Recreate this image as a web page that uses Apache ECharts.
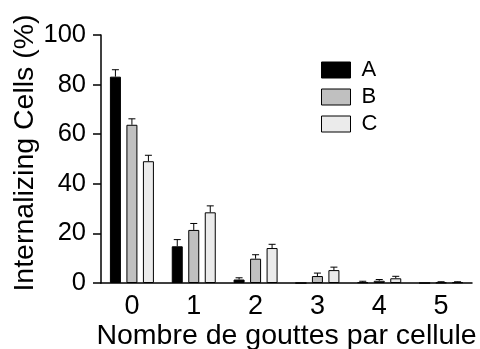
<!DOCTYPE html>
<html>
<head>
<meta charset="utf-8">
<script src="https://cdn.jsdelivr.net/npm/echarts@6/dist/echarts.min.js"></script>
<style>
html,body{margin:0;padding:0;background:#fff;}
#chart{width:480px;height:349px;}
</style>
</head>
<body>
<div id="chart"></div>
<script>
const categories = ['0', '1', '2', '3', '4', '5'];
const seriesNames = ['A', 'B', 'C'];
const valuesA = [83.2, 14.8, 1.4, 0, 0.3, 0];
const errA = [2.8, 2.7, 0.7, 0, 0.4, 0];
const valuesB = [63.8, 21.4, 9.8, 2.8, 0.9, 0.2];
const errB = [2.4, 2.6, 1.6, 1.2, 0.5, 0.3];
const valuesC = [49.1, 28.5, 14.1, 5.2, 1.9, 0.3];
const errC = [2.4, 2.6, 1.5, 1.2, 0.8, 0.2];
const yMin = 0, yMax = 100, yInterval = 20;
const xTitle = 'Nombre de gouttes par cellule';
const yTitle = 'Internalizing Cells (%)';

const colors = ['#000000', '#c0c0c0', '#ebebeb'];
const FONT = '"Liberation Sans", Arial, sans-serif';
const barWidth = 11;
const barGap = 0.5;

const allValues = [valuesA, valuesB, valuesC];
const allErr = [errA, errB, errC];

const chart = echarts.init(document.getElementById('chart'), null, {renderer: 'canvas'});

const series = [];
seriesNames.forEach((name, i) => {
  series.push({
    name: name,
    type: 'bar',
    data: allValues[i],
    barWidth: barWidth,
    barGap: (barGap * 100) + '%',
    itemStyle: {color: colors[i], borderColor: '#000', borderWidth: 1},
    emphasis: {disabled: true},
    z: 2
  });
});
seriesNames.forEach((name, i) => {
  const offset = (i - 1) * barWidth * (1 + barGap);
  series.push({
    name: 'err' + name,
    type: 'custom',
    data: allValues[i].map((v, k) => [k, v, allErr[i][k]]),
    encode: {x: 0, y: 1},
    z: 3,
    silent: true,
    renderItem: function (params, api) {
      const x = api.value(0), v = api.value(1), e = api.value(2);
      if (!e) return null;
      const base = api.coord([x, v]);
      const top = api.coord([x, v + e]);
      const cx = base[0] + offset;
      return {
        type: 'group',
        children: [
          {type: 'line', shape: {x1: cx, y1: base[1], x2: cx, y2: top[1]}, style: {stroke: '#000', lineWidth: 1}},
          {type: 'line', shape: {x1: cx - 3.5, y1: top[1], x2: cx + 3.5, y2: top[1]}, style: {stroke: '#000', lineWidth: 1}}
        ]
      };
    }
  });
});

chart.setOption({
  animation: false,
  backgroundColor: '#fff',
  textStyle: {fontFamily: FONT},
  legend: {
    data: seriesNames,
    orient: 'vertical',
    left: 321,
    top: 59,
    padding: 0,
    itemWidth: 29,
    itemHeight: 16,
    itemGap: 5,
    icon: 'rect',
    itemStyle: {borderColor: '#000', borderWidth: 1},
    textStyle: {fontFamily: FONT, fontSize: 22, color: '#000', padding: [0, 0, 0, 6]}
  },
  grid: {left: 101, right: 8, top: 35, bottom: 66, containLabel: false, outerBoundsMode: 'none'},
  xAxis: {
    type: 'category',
    data: categories,
    name: xTitle,
    nameLocation: 'middle',
    nameGap: 39,
    nameMoveOverlap: false,
    nameTextStyle: {fontFamily: FONT, fontSize: 28.5, color: '#000'},
    axisLine: {lineStyle: {color: '#000', width: 1.5}},
    axisTick: {alignWithLabel: true, length: 6, lineStyle: {color: '#000', width: 1.5}},
    axisLabel: {fontFamily: FONT, fontSize: 27, color: '#000', margin: 10}
  },
  yAxis: {
    type: 'value',
    min: yMin,
    max: yMax,
    interval: yInterval,
    name: yTitle,
    nameLocation: 'middle',
    nameGap: 61,
    nameMoveOverlap: false,
    nameTextStyle: {fontFamily: FONT, fontSize: 28.5, color: '#000', padding: [0, 0, 0, 12]},
    splitLine: {show: false},
    axisLine: {show: true, lineStyle: {color: '#000', width: 1.5}},
    axisTick: {show: true, length: 8, lineStyle: {color: '#000', width: 1.5}},
    axisLabel: {fontFamily: FONT, fontSize: 25.5, color: '#000', margin: 15}
  },
  series: series
});
</script>
</body>
</html>
